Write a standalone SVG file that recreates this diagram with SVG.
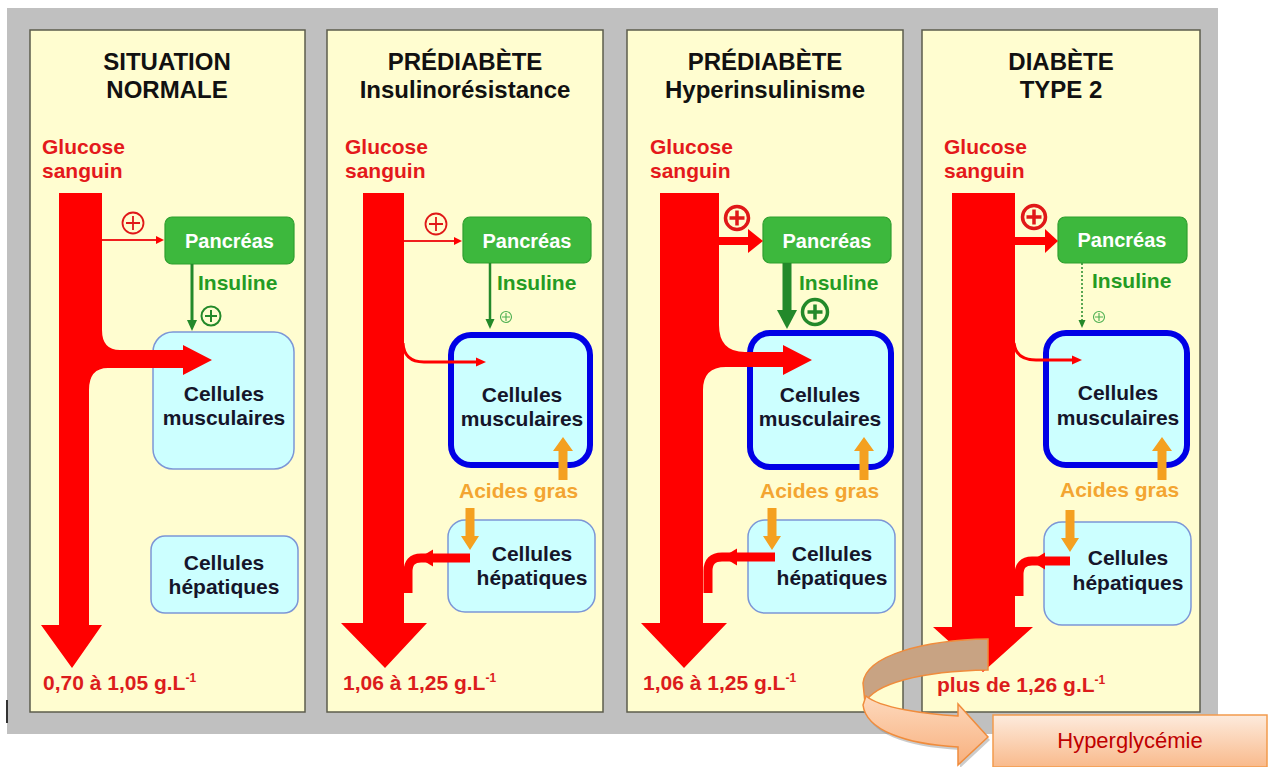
<svg xmlns="http://www.w3.org/2000/svg" width="1268" height="767" viewBox="0 0 1268 767">
  <defs>
    <style>
      .bg { fill: #C0C0C0; }
      .panel { fill: #FFFDD0; stroke: #5C5C4C; stroke-width: 1.5; }
      .title { font: bold 24px "Liberation Sans", Arial, sans-serif; fill: #111; text-anchor: middle; }
      .glu { font: bold 21px "Liberation Sans", Arial, sans-serif; fill: #E4191B; }
      .val { font: bold 21px "Liberation Sans", Arial, sans-serif; fill: #DC1C1C; }
      .pan rect { fill: #3DB83D; stroke: #2F9F2F; stroke-width: 1.2; }
      .pan text { font: bold 20px "Liberation Sans", Arial, sans-serif; fill: #FFFFFF; text-anchor: middle; }
      .ins { font: bold 21px "Liberation Sans", Arial, sans-serif; fill: #249B24; }
      .cell rect { fill: #CCFFFF; stroke: #7C96D6; stroke-width: 1.5; }
      .cell.res rect { stroke: #0000E6; stroke-width: 6; }
      .cell text { font: bold 21px "Liberation Sans", Arial, sans-serif; fill: #15152A; text-anchor: middle; }
      .fa { font: bold 21px "Liberation Sans", Arial, sans-serif; fill: #F3A531; }
      .flow { fill: #FF0000; }
      .thinred { fill: none; stroke: #F01E1E; stroke-width: 2; }
      .midred { fill: none; stroke: #FF0000; stroke-width: 3; }
      .ret { fill: none; stroke: #FF0000; stroke-width: 9; }
      .redhead { fill: #FF0000; }
      .grn { stroke: #23892A; fill: none; }
      .grnhead { fill: #23892A; }
      .orange { fill: #F4A020; }
      .plusR { fill: none; stroke: #E01818; }
      .plusG { fill: none; stroke: #23892A; }
      .plusGl { fill: none; stroke: #4CAF50; }
      .sup { font-size: 12px; }
    </style>
    <linearGradient id="peach" x1="0" y1="0" x2="0" y2="1">
      <stop offset="0" stop-color="#FDEBDD"/>
      <stop offset="1" stop-color="#F9BA8C"/>
    </linearGradient>
    <linearGradient id="peachBand" x1="0" y1="0" x2="0" y2="1">
      <stop offset="0" stop-color="#FDD9BD"/>
      <stop offset="1" stop-color="#F8B07E"/>
    </linearGradient>
  </defs>

  <!-- backdrop -->
  <rect class="bg" x="7" y="8" width="1211" height="726"/>
  <rect x="6" y="700" width="2" height="23" fill="#333"/>

  <!-- panels -->
  <g id="panel-normal">
    <rect class="panel" x="30" y="30" width="275" height="682"/>
    <text class="title" x="167" y="70">SITUATION</text>
    <text class="title" x="167" y="98">NORMALE</text>
    <text class="glu" x="42" y="154">Glucose</text>
    <text class="glu" x="42" y="178">sanguin</text>
    <text class="val" x="43" y="690">0,70 à 1,05 g.L<tspan class="sup" dy="-8">-1</tspan></text>
  </g>
  <g id="panel-insulinoresistance">
    <rect class="panel" x="327" y="30" width="276" height="682"/>
    <text class="title" x="465" y="70">PRÉDIABÈTE</text>
    <text class="title" x="465" y="98">Insulinorésistance</text>
    <text class="glu" x="345" y="154">Glucose</text>
    <text class="glu" x="345" y="178">sanguin</text>
    <text class="val" x="343" y="690">1,06 à 1,25 g.L<tspan class="sup" dy="-8">-1</tspan></text>
  </g>
  <g id="panel-hyperinsulinisme">
    <rect class="panel" x="627" y="30" width="276" height="682"/>
    <text class="title" x="765" y="70">PRÉDIABÈTE</text>
    <text class="title" x="765" y="98">Hyperinsulinisme</text>
    <text class="glu" x="650" y="154">Glucose</text>
    <text class="glu" x="650" y="178">sanguin</text>
    <text class="val" x="643" y="690">1,06 à 1,25 g.L<tspan class="sup" dy="-8">-1</tspan></text>
  </g>
  <g id="panel-diabete">
    <rect class="panel" x="922" y="30" width="278" height="682"/>
    <text class="title" x="1061" y="70">DIABÈTE</text>
    <text class="title" x="1061" y="98">TYPE 2</text>
    <text class="glu" x="944" y="154">Glucose</text>
    <text class="glu" x="944" y="178">sanguin</text>
    <text class="val" x="937" y="692">plus de 1,26 g.L<tspan class="sup" dy="-8">-1</tspan></text>
  </g>

  <!-- organs -->
  <g id="pancreas-1" class="pan"><rect x="165" y="217" width="129" height="47" rx="7"/><text x="229.5" y="248">Pancréas</text></g>
  <g id="pancreas-2" class="pan"><rect x="463" y="217" width="128" height="46" rx="7"/><text x="527" y="248">Pancréas</text></g>
  <g id="pancreas-3" class="pan"><rect x="763" y="217" width="128" height="46" rx="7"/><text x="827" y="248">Pancréas</text></g>
  <g id="pancreas-4" class="pan"><rect x="1058" y="217" width="129" height="46" rx="7"/><text x="1122" y="247">Pancréas</text></g>

  <g id="muscle-1" class="cell"><rect x="153" y="332" width="141" height="137" rx="20"/><text x="224" y="401">Cellules</text><text x="224" y="425">musculaires</text></g>
  <g id="muscle-2" class="cell res"><rect x="451" y="335" width="139" height="130" rx="20"/><text x="522" y="402">Cellules</text><text x="522" y="426">musculaires</text></g>
  <g id="muscle-3" class="cell res"><rect x="750" y="333" width="141" height="134" rx="20"/><text x="820" y="402">Cellules</text><text x="820" y="426">musculaires</text></g>
  <g id="muscle-4" class="cell res"><rect x="1046" y="333" width="141" height="132" rx="20"/><text x="1118" y="400">Cellules</text><text x="1118" y="425">musculaires</text></g>

  <g id="liver-1" class="cell"><rect x="151" y="536" width="147" height="77" rx="14"/><text x="224" y="570">Cellules</text><text x="224" y="594">hépatiques</text></g>
  <g id="liver-2" class="cell"><rect x="448" y="520" width="147" height="92" rx="17"/><text x="532" y="561">Cellules</text><text x="532" y="585">hépatiques</text></g>
  <g id="liver-3" class="cell"><rect x="748" y="520" width="147" height="93" rx="17"/><text x="832" y="561">Cellules</text><text x="832" y="585">hépatiques</text></g>
  <g id="liver-4" class="cell"><rect x="1044" y="522" width="147" height="103" rx="18"/><text x="1128" y="565">Cellules</text><text x="1128" y="590">hépatiques</text></g>

  <!-- fatty acid labels -->
  <g id="fatty-acids-2"><text class="fa" x="459" y="498">Acides gras</text></g>
  <g id="fatty-acids-3"><text class="fa" x="760" y="498">Acides gras</text></g>
  <g id="fatty-acids-4"><text class="fa" x="1060" y="497">Acides gras</text></g>

  <!-- insulin labels -->
  <g id="insulin-labels">
    <text class="ins" x="198" y="290">Insuline</text>
    <text class="ins" x="497" y="290">Insuline</text>
    <text class="ins" x="799" y="290">Insuline</text>
    <text class="ins" x="1092" y="288">Insuline</text>
  </g>

  <!-- connectors -->
  <g id="connectors">
    <!-- blood glucose flows -->
    <path class="flow" d="M59,193 H102 V330 Q102,350 120,350 H183 V345 L212,360 L183,375 V368 H108 Q89,368 89,390 V625 H102 L72,668 L41,625 H59 Z"/>
    <path class="flow" d="M363,193 H404 V623 H427 L385,668 L341,623 H363 Z"/>
    <path class="flow" d="M660,193 H719 V325 Q719,352 745,352 H783 V345 L812,360 L783,375 V367 H726 Q703,367 703,390 V623 H727 L684,668 L641,623 H660 Z"/>
    <path class="flow" d="M952,193 H1015 V627 H1033 L983,672 L933,627 H952 Z"/>

    <!-- glucose towards muscle (thin) -->
    <path class="midred" d="M403,343 Q404,362 424,362 H477"/>
    <polygon class="redhead" points="476,357.5 486,362 476,366.5"/>
    <path class="midred" d="M1014,343 Q1016,360 1036,360 H1073"/>
    <polygon class="redhead" points="1072,355.5 1082,360 1072,364.5"/>

    <!-- glucose stimulates pancreas -->
    <line class="thinred" x1="102" y1="240" x2="157" y2="240"/>
    <polygon class="redhead" points="156,236 164,240 156,244"/>
    <line class="thinred" x1="404" y1="241" x2="455" y2="241"/>
    <polygon class="redhead" points="454,237 462,241 454,245"/>
    <line stroke="#FF0000" stroke-width="8" x1="719" y1="241" x2="750" y2="241"/>
    <polygon class="redhead" points="748,229 763,241 748,253"/>
    <line stroke="#FF0000" stroke-width="8" x1="1015" y1="241" x2="1047" y2="241"/>
    <polygon class="redhead" points="1045,229 1058,241 1045,253"/>

    <!-- plus signs on glucose -->
    <g class="plusR" stroke-width="1.8"><circle cx="133" cy="223" r="10.5"/><path d="M126,223 H140 M133,216 V230"/></g>
    <g class="plusR" stroke-width="1.8"><circle cx="436" cy="224" r="10.5"/><path d="M429,224 H443 M436,217 V231"/></g>
    <g class="plusR" stroke-width="3.5"><circle cx="737" cy="218" r="11.5"/><path d="M729.5,218 H744.5 M737,210.5 V225.5"/></g>
    <g class="plusR" stroke-width="3.5"><circle cx="1034" cy="217" r="11.5"/><path d="M1026.5,217 H1041.5 M1034,209.5 V224.5"/></g>

    <!-- insulin -->
    <line class="grn" stroke-width="3" x1="192" y1="264" x2="192" y2="322"/>
    <polygon class="grnhead" points="187,320 192,331 197,320"/>
    <line class="grn" stroke-width="2.5" x1="490" y1="263" x2="490" y2="320"/>
    <polygon class="grnhead" points="485.5,319 490,329 494.5,319"/>
    <rect class="grnhead" x="782.5" y="263" width="9" height="48"/>
    <polygon class="grnhead" points="777,310 787,329 797,310"/>
    <line class="grn" stroke-width="1.5" stroke-dasharray="2 2" x1="1082" y1="263" x2="1082" y2="321"/>
    <polygon class="grnhead" points="1078.5,320 1082,328 1085.5,320"/>

    <g class="plusG" stroke-width="2"><circle cx="211" cy="316" r="9.5"/><path d="M205,316 H217 M211,310 V322"/></g>
    <g class="plusGl" stroke-width="1.1"><circle cx="506" cy="317" r="5.5"/><path d="M502,317 H510 M506,313 V321"/></g>
    <g class="plusG" stroke-width="3.5"><circle cx="815" cy="312" r="12.5"/><path d="M807.5,312 H822.5 M815,304.5 V319.5"/></g>
    <g class="plusGl" stroke-width="1.1"><circle cx="1099" cy="317" r="5.5"/><path d="M1095,317 H1103 M1099,313 V321"/></g>

    <!-- fatty acids -->
    <polygon class="orange" points="558.5,480 558.5,451 553,451 563,437 573,451 567.5,451 567.5,480"/>
    <polygon class="orange" points="465.5,508 465.5,536 461,536 470,550 479,536 474.5,536 474.5,508"/>
    <polygon class="orange" points="859.5,480 859.5,451 854,451 864,437 874,451 868.5,451 868.5,480"/>
    <polygon class="orange" points="767.5,508 767.5,536 763,536 772,550 781,536 776.5,536 776.5,508"/>
    <polygon class="orange" points="1157.5,480 1157.5,451 1152,451 1162,437 1172,451 1166.5,451 1166.5,480"/>
    <polygon class="orange" points="1065.5,510 1065.5,538 1061,538 1070,552 1079,538 1074.5,538 1074.5,510"/>

    <!-- glucose released by the liver -->
    <path class="ret" d="M470,558 H421 Q408,558 408,572 V593"/>
    <polygon class="redhead" points="433,549.5 419,558 433,566.5"/>
    <path class="ret" d="M775,557 H722 Q708,557 708,571 V593"/>
    <polygon class="redhead" points="737,548.5 723,557 737,565.5"/>
    <path class="ret" d="M1070,561 H1032 Q1019,561 1019,575 V596"/>
    <polygon class="redhead" points="1045,552.5 1031,561 1045,569.5"/>
  </g>

  <!-- outcome -->
  <g id="curved-arrow">
    <path d="M866,700 C882,712 925,718 960,720 L960,708 L990,740 L960,768 L960,750 C905,747 868,733 865,708 Z" fill="#8C8C8C" opacity="0.45"/>
    <path d="M988,639 C925,640 866,655 863,683 L865,703 C874,684 920,671 988,670 Z" fill="#C8A383" stroke="#F08C3C" stroke-width="1.5"/>
    <path d="M866,696 C880,708 925,714 958,716 L958,704 L988,737 L958,765 L958,747 C905,744 866,730 863,705 Z" fill="url(#peachBand)" stroke="#F08C3C" stroke-width="1.5"/>
  </g>
  <g id="hyperglycemie">
    <rect x="993" y="715" width="274" height="52" fill="url(#peach)" stroke="#F29B4C" stroke-width="1.5"/>
    <text x="1130" y="748" font-family="'Liberation Sans', Arial, sans-serif" font-size="22" fill="#C00000" text-anchor="middle">Hyperglycémie</text>
  </g>
</svg>
